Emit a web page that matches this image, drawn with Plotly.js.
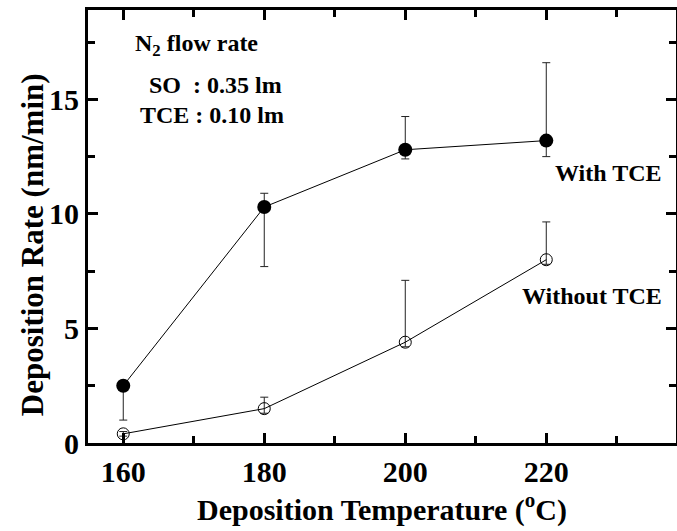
<!DOCTYPE html>
<html><head><meta charset="utf-8"><script src="https://cdn.plot.ly/plotly-3.0.1.min.js"></script>
<style>body{margin:0;background:#fff}</style></head>
<body><div id="chart" style="width:677px;height:531px"></div>
<script>
const temperature = [160, 180, 200, 220];
const rateWithTCE = [2.5, 10.3, 12.8, 13.2];
const errPlusWith = [0.2, 0.6, 1.45, 3.4];
const errMinusWith = [1.5, 2.6, 0.4, 0.7];
const rateWithoutTCE = [0.4, 1.5, 4.4, 8.0];
const errPlusWithout = [0.1, 0.5, 2.7, 1.65];
const errMinusWithout = [0.1, 0.2, 0.2, 0.2];
const xTickValues = [160, 180, 200, 220];
const yTickValues = [0, 5, 10, 15];

const serif = 'Liberation Serif';
const traces = [
  {x: temperature, y: rateWithTCE, type: 'scatter', mode: 'lines+markers',
   line: {color: '#000', width: 1},
   marker: {symbol: 'circle', size: 14, color: '#000'},
   error_y: {type: 'data', symmetric: false, array: errPlusWith, arrayminus: errMinusWith,
             color: '#222', thickness: 1, width: 4}},
  {x: temperature, y: rateWithoutTCE, type: 'scatter', mode: 'lines+markers',
   line: {color: '#000', width: 1},
   marker: {symbol: 'circle-open', size: 12, color: '#000', line: {width: 1, color: '#000'}},
   error_y: {type: 'data', symmetric: false, array: errPlusWithout, arrayminus: errMinusWithout,
             color: '#222', thickness: 1, width: 4}}
];
const axisCommon = {
  showline: true, linewidth: 3, linecolor: '#000', mirror: 'allticks',
  ticks: 'inside', ticklen: 10, tickwidth: 3, tickcolor: '#000',
  showgrid: false, zeroline: false,
  tickfont: {family: serif, size: 30, color: '#000'}
};
const layout = {
  width: 677, height: 531,
  margin: {l: 88, r: 1, t: 10, b: 88},
  paper_bgcolor: '#fff', plot_bgcolor: '#fff',
  showlegend: false,
  xaxis: Object.assign({}, axisCommon, {
    range: [155, 238.4], tickmode: 'array', tickvals: xTickValues, ticktext: xTickValues.map(v => '<b>' + v + '</b>'),
    minor: {tickvals: [170, 190, 210, 230], ticklen: 7, tickwidth: 3, tickcolor: '#000', ticks: 'inside'},
    title: {text: '<b>Deposition Temperature (<sup>o</sup>C)</b>', font: {family: serif, size: 30, color: '#000'}, standoff: 6}
  }),
  yaxis: Object.assign({}, axisCommon, {
    range: [0, 18.9], tickmode: 'array', tickvals: yTickValues, ticktext: yTickValues.map(v => '<b>' + v + '</b>'),
    minor: {tickvals: [2.5, 7.5, 12.5, 17.5], ticklen: 7, tickwidth: 3, tickcolor: '#000', ticks: 'inside'}
  }),
  annotations: [
    {xref: 'paper', yref: 'paper', x: -0.0952, y: 0.457, xanchor: 'center', yanchor: 'middle', showarrow: false,
     textangle: -90, text: '<b>Deposition Rate (nm/min)</b>', font: {family: serif, size: 31, color: '#000'}},
    {xref: 'paper', yref: 'paper', x: 0.0765, y: 0.919, xanchor: 'left', yanchor: 'middle', showarrow: false,
     text: '<b>N<sub>2</sub> flow rate</b>', font: {family: serif, size: 24, color: '#000'}},
    {xref: 'paper', yref: 'paper', x: 0.1003, y: 0.827, xanchor: 'left', yanchor: 'middle', showarrow: false,
     text: '<b>SO&nbsp;&nbsp;: 0.35 lm</b>', font: {family: serif, size: 24, color: '#000'}},
    {xref: 'paper', yref: 'paper', x: 0.085, y: 0.7575, xanchor: 'left', yanchor: 'middle', showarrow: false,
     text: '<b>TCE : 0.10 lm</b>', font: {family: serif, size: 24, color: '#000'}},
    {xref: 'paper', yref: 'paper', x: 0.98, y: 0.6236, xanchor: 'right', yanchor: 'middle', showarrow: false,
     text: '<b>With TCE</b>', font: {family: serif, size: 24, color: '#000'}},
    {xref: 'paper', yref: 'paper', x: 0.98, y: 0.3395, xanchor: 'right', yanchor: 'middle', showarrow: false,
     text: '<b>Without TCE</b>', font: {family: serif, size: 24, color: '#000'}}
  ]
};
Plotly.newPlot('chart', traces, layout, {displayModeBar: false, staticPlot: true});
</script></body></html>
